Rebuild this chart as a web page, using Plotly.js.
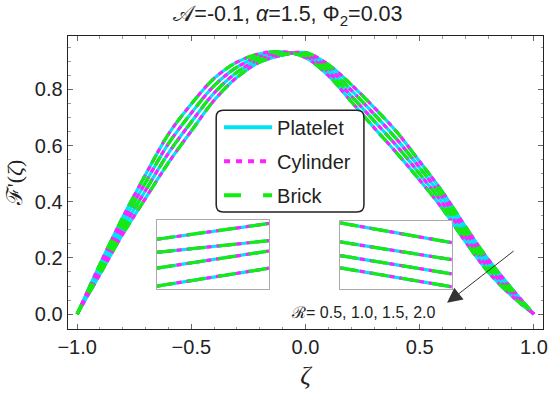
<!DOCTYPE html>
<html><head><meta charset="utf-8">
<script src="https://cdn.plot.ly/plotly-3.0.1.min.js"></script>
<style>html,body{margin:0;padding:0;background:#fff}#chart{width:550px;height:396px}</style>
</head><body><div id="chart"></div>
<script>
// ---- data ----
const zeta  = [-1.0,-0.9,-0.8,-0.7,-0.6,-0.5,-0.4,-0.3,-0.2,-0.1,0.0,0.1,0.2,0.3,0.4,0.5,0.6,0.7,0.8,0.9,1.0];
const F_R05 = [0,0.142,0.285,0.413,0.539,0.652,0.761,0.843,0.897,0.922,0.931,0.888,0.817,0.736,0.648,0.543,0.435,0.312,0.195,0.094,0];
const F_R10 = [0,0.154,0.305,0.441,0.573,0.684,0.787,0.861,0.907,0.926,0.925,0.875,0.797,0.712,0.622,0.521,0.415,0.294,0.180,0.085,0];
const F_R15 = [0,0.166,0.325,0.469,0.607,0.716,0.813,0.879,0.917,0.930,0.919,0.862,0.777,0.688,0.598,0.499,0.395,0.276,0.165,0.076,0];
const F_R20 = [0,0.178,0.345,0.497,0.641,0.748,0.839,0.897,0.927,0.934,0.913,0.849,0.757,0.664,0.573,0.477,0.375,0.258,0.150,0.067,0];
const rValues = ['0.5','1.0','1.5','2.0'];
const shapeNames = ['Platelet','Cylinder','Brick'];
// zoomed insets (own unit axes)
const insetX = [0,1];
const leftInsetStart  = [0.72,0.53,0.30,0.04];
const leftInsetEnd    = [0.95,0.70,0.55,0.30];
const rightInsetStart = [0.97,0.69,0.49,0.31];
const rightInsetEnd   = [0.68,0.43,0.22,0.03];

// ---- styles ----
const colors = ['#00e3f3','#ff20ff','#12ec12'];
const curveDash  = ['solid','5px,5px','10px,14px'];
const insetDash  = ['solid','5px,5px','18px,13px'];
const legendDash = ['solid','6px,6px','17px,22px'];
const curves = [F_R05,F_R10,F_R15,F_R20];

const traces = [];
for (let s = 0; s < 3; s++) {
  curves.forEach((F,i) => {
    traces.push({x: zeta, y: F, type:'scatter', mode:'lines', name: shapeNames[s]+' R='+rValues[i],
      line:{color:colors[s], width:3.2, dash:curveDash[s], shape:'spline', smoothing:1},
      showlegend:false, hoverinfo:'skip', xaxis:'x', yaxis:'y'});
  });
}
for (let s = 0; s < 3; s++) {
  for (let i = 0; i < 4; i++) {
    traces.push({x: insetX, y:[leftInsetStart[i], leftInsetEnd[i]], type:'scatter', mode:'lines',
      line:{color:colors[s], width:3.2, dash:insetDash[s]}, showlegend:false, hoverinfo:'skip', xaxis:'x2', yaxis:'y2'});
  }
}
for (let s = 0; s < 3; s++) {
  for (let i = 0; i < 4; i++) {
    traces.push({x: insetX, y:[rightInsetStart[i], rightInsetEnd[i]], type:'scatter', mode:'lines',
      line:{color:colors[s], width:3.2, dash:insetDash[s]}, showlegend:false, hoverinfo:'skip', xaxis:'x3', yaxis:'y3'});
  }
}
// legend entries
for (let s = 0; s < 3; s++) {
  traces.push({x:[null], y:[null], type:'scatter', mode:'lines', name: shapeNames[s], legendgroup:'g'+s,
    line:{color:colors[s], width:4, dash:legendDash[s]}, showlegend:true, hoverinfo:'skip'});
}

// rounded legend frame (paper coords)
const lb = {x0:0.312, x1:0.623, y0:0.399, y1:0.747};
const rx = 7/475, ry = 7/293;
const framePath = `M${lb.x0+rx},${lb.y0} L${lb.x1-rx},${lb.y0} Q${lb.x1},${lb.y0} ${lb.x1},${lb.y0+ry} L${lb.x1},${lb.y1-ry} Q${lb.x1},${lb.y1} ${lb.x1-rx},${lb.y1} L${lb.x0+rx},${lb.y1} Q${lb.x0},${lb.y1} ${lb.x0},${lb.y1-ry} L${lb.x0},${lb.y0+ry} Q${lb.x0},${lb.y0} ${lb.x0+rx},${lb.y0} Z`;

const insetAxis = (dom, anchor) => ({domain:dom, range:[0,1], anchor:anchor, showticklabels:false, ticks:'',
  showline:true, mirror:true, linecolor:'#aaaaaa', linewidth:1.2, showgrid:false, zeroline:false, fixedrange:true});

const layout = {
  width:550, height:396,
  margin:{l:68, r:7, t:36, b:67},
  paper_bgcolor:'#ffffff', plot_bgcolor:'#ffffff',
  font:{family:'Liberation Sans, Arial, sans-serif', color:'#222222', size:20},
  title:{text:'𝒜=-0.1, <i>α</i>=1.5, Φ<sub>2</sub>=0.03', x:0.463, xref:'paper', xanchor:'center',
    y:0.965, yref:'container', yanchor:'middle', font:{size:21.5, color:'#222222'}},
  xaxis:{range:[-1.04,1.04], tick0:0, dtick:0.5, tickformat:'.1f', ticks:'inside', ticklen:5, tickcolor:'#666',
    showline:true, linecolor:'#222', linewidth:1.4, mirror:'ticks', showgrid:false, zeroline:false,
    minor:{ticks:'inside', ticklen:2.5, dtick:0.1, tickcolor:'#999', showgrid:false},
    title:{text:'<i>ζ</i>', font:{family:'Liberation Serif, serif', size:26}, standoff:8}},
  yaxis:{range:[-0.053,0.99], tick0:0, dtick:0.2, tickformat:'.1f', ticks:'inside', ticklen:5, tickcolor:'#666',
    showline:true, linecolor:'#222', linewidth:1.4, mirror:'ticks', showgrid:false, zeroline:false,
    minor:{ticks:'inside', ticklen:2.5, dtick:0.05, tickcolor:'#999', showgrid:false},
    title:{text:"ℱ'(<i>ζ</i>)", font:{family:'Liberation Serif, serif', size:22}, standoff:6}},
  xaxis2: insetAxis([0.187,0.423],'y2'),
  yaxis2: insetAxis([0.137,0.372],'x2'),
  xaxis3: insetAxis([0.573,0.808],'y3'),
  yaxis3: insetAxis([0.137,0.369],'x3'),
  legend:{x:0.318, y:0.755, xanchor:'left', yanchor:'top', bgcolor:'rgba(0,0,0,0)', borderwidth:0,
    font:{size:20, color:'#222'}, itemwidth:48, traceorder:'grouped', tracegroupgap:5},
  shapes:[{type:'path', xref:'paper', yref:'paper', path:framePath, line:{color:'#222', width:1.5}, fillcolor:'#ffffff', layer:'above'}],
  annotations:[
    {x:0.62, y:0.04, xref:'x', yref:'y', ax:68, ay:-53, text:'', showarrow:true, arrowhead:2, arrowsize:3, arrowwidth:1, arrowcolor:'#333'},
    {x:0.253, y:0.004, xref:'x', yref:'y', text:'ℛ= 0.5, 1.0, 1.5, 2.0', showarrow:false, font:{size:16, color:'#222'}, xanchor:'center', yanchor:'middle'}
  ]
};
Plotly.newPlot('chart', traces, layout, {staticPlot:true, displayModeBar:false});
</script></body></html>
